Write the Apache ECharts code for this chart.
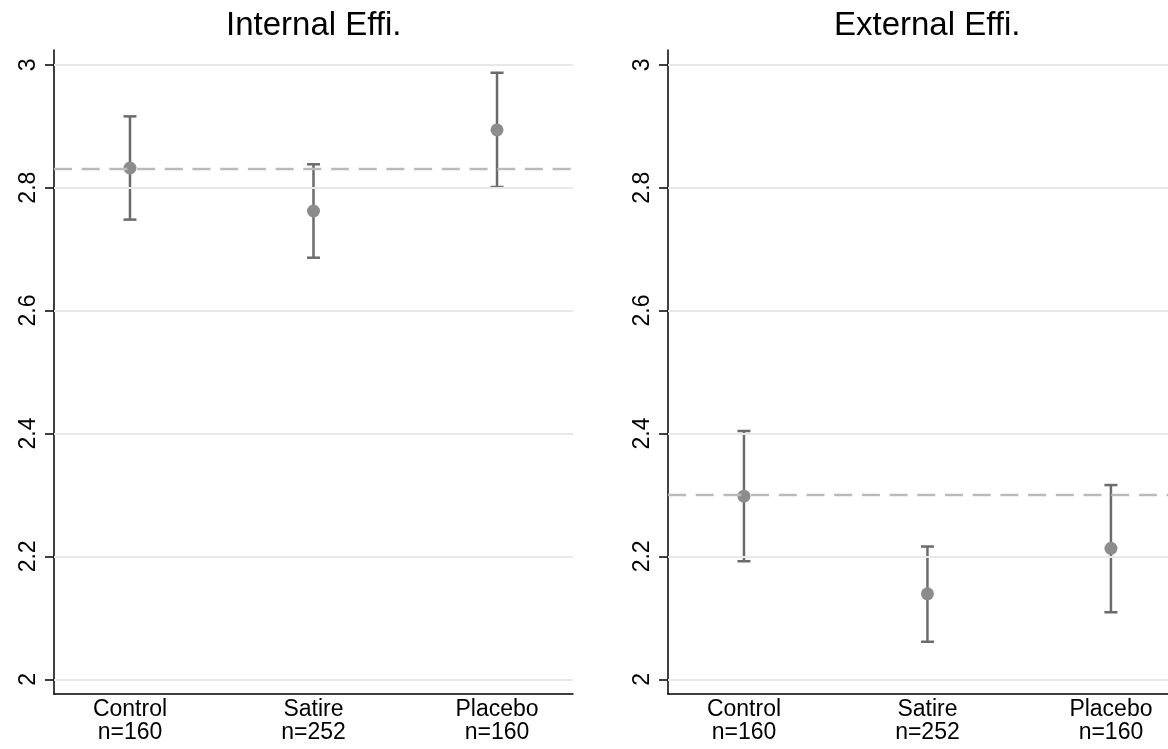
<!DOCTYPE html>
<html>
<head>
<meta charset="utf-8">
<script src="https://cdn.jsdelivr.net/npm/echarts@6/dist/echarts.min.js"></script>
<style>
    html, body {margin: 0; padding: 0; background: #fff;}
    #main {width: 1168px; height: 749px;}
</style>
</head>
<body>
<div id="main"></div>
<script>
var groups = ['Control', 'Satire', 'Placebo'];
var nLabels = ['n=160', 'n=252', 'n=160'];
var yTicks = [2, 2.2, 2.4, 2.6, 2.8, 3];
var panelTitles = ['Internal Effi.', 'External Effi.'];

// means and 95% CI bounds
var internalMean = [2.832, 2.762, 2.894];
var internalLow = [2.748, 2.686, 2.801];
var internalHigh = [2.916, 2.838, 2.987];

var externalMean = [2.298, 2.139, 2.213];
var externalLow = [2.192, 2.061, 2.109];
var externalHigh = [2.404, 2.216, 2.316];

// dashed reference lines (control mean)
var refLines = [2.832, 2.298];

var FONT = "'Liberation Sans', Arial, Helvetica, sans-serif";
var gridLefts = [54, 668];
var gridWidths = [519, 500];
// right panel is cut off by the page edge, so its x range ends earlier
var xMaxes = [3.414, 3.311];
var titleLefts = [226, 834];

var chart = echarts.init(document.getElementById('main'));

function xAxisFor(i) {
    return {
        type: 'value',
        gridIndex: i,
        min: 0.586,
        max: xMaxes[i],
        splitLine: {show: false},
        axisTick: {show: false},
        axisLine: {show: true, onZero: false, lineStyle: {color: '#000', width: 1.5}},
        axisLabel: {
            customValues: [1, 2, 3],
            margin: 4,
            color: '#000',
            fontFamily: FONT,
            fontSize: 23,
            lineHeight: 23,
            formatter: function (v) {
                var k = Math.round(v) - 1;
                return groups[k] + '\n' + nLabels[k];
            }
        }
    };
}

function yAxisFor(i) {
    return {
        type: 'value',
        gridIndex: i,
        min: 1.976,
        max: 3.024,
        splitLine: {show: false},
        axisLine: {show: true, lineStyle: {color: '#000', width: 1.5}},
        axisTick: {show: true, customValues: yTicks, length: 9, lineStyle: {color: '#000', width: 1.5}},
        axisLabel: {
            customValues: yTicks,
            rotate: 90,
            margin: 14,
            color: '#000',
            fontFamily: FONT,
            fontSize: 23
        }
    };
}

function errorBars(i, low, high) {
    var data = groups.map(function (g, k) {
        return [k + 1, low[k], high[k]];
    });
    return {
        type: 'custom',
        xAxisIndex: i,
        yAxisIndex: i,
        z: 3,
        silent: true,
        data: data,
        renderItem: function (params, api) {
            var x = api.value(0);
            var lo = api.coord([x, api.value(1)]);
            var hi = api.coord([x, api.value(2)]);
            var hw = 6.5;
            var style = {stroke: '#6b6b6b', lineWidth: 2.5};
            return {
                type: 'group',
                children: [
                    {type: 'line', shape: {x1: lo[0], y1: lo[1], x2: hi[0], y2: hi[1]}, style: style},
                    {type: 'line', shape: {x1: lo[0] - hw, y1: lo[1], x2: lo[0] + hw, y2: lo[1]}, style: style},
                    {type: 'line', shape: {x1: hi[0] - hw, y1: hi[1], x2: hi[0] + hw, y2: hi[1]}, style: style}
                ]
            };
        }
    };
}

function meanPoints(i, mean) {
    return {
        type: 'scatter',
        xAxisIndex: i,
        yAxisIndex: i,
        z: 4,
        symbol: 'circle',
        symbolSize: 13,
        itemStyle: {color: '#8c8c8c', opacity: 1},
        silent: true,
        data: mean.map(function (m, k) { return [k + 1, m]; })
    };
}

// grid lines and dashed reference line as mark lines
function guideLines(i, ref) {
    return {
        type: 'line',
        xAxisIndex: i,
        yAxisIndex: i,
        z: 1,
        data: [],
        silent: true,
        markLine: {
            silent: true,
            symbol: ['none', 'none'],
            animation: false,
            label: {show: false},
            emphasis: {disabled: true},
            data: yTicks.map(function (t) {
                return {yAxis: t, lineStyle: {color: '#e8e8e8', width: 2, type: 'solid'}};
            }).concat([
                {yAxis: ref, lineStyle: {color: '#bababa', width: 2.3, type: [18, 9.7]}}
            ])
        }
    };
}

var option = {
    animation: false,
    backgroundColor: '#fff',
    title: panelTitles.map(function (t, i) {
        return {
            text: t,
            left: titleLefts[i],
            top: 9,
            padding: 0,
            textStyle: {fontFamily: FONT, fontSize: 33, fontWeight: 'normal', color: '#000'}
        };
    }),
    grid: [0, 1].map(function (i) {
        return {left: gridLefts[i], top: 50, width: gridWidths[i], height: 644, containLabel: false};
    }),
    xAxis: [xAxisFor(0), xAxisFor(1)],
    yAxis: [yAxisFor(0), yAxisFor(1)],
    series: [
        guideLines(0, refLines[0]),
        errorBars(0, internalLow, internalHigh),
        meanPoints(0, internalMean),
        guideLines(1, refLines[1]),
        errorBars(1, externalLow, externalHigh),
        meanPoints(1, externalMean)
    ]
};

chart.setOption(option);
</script>
</body>
</html>
